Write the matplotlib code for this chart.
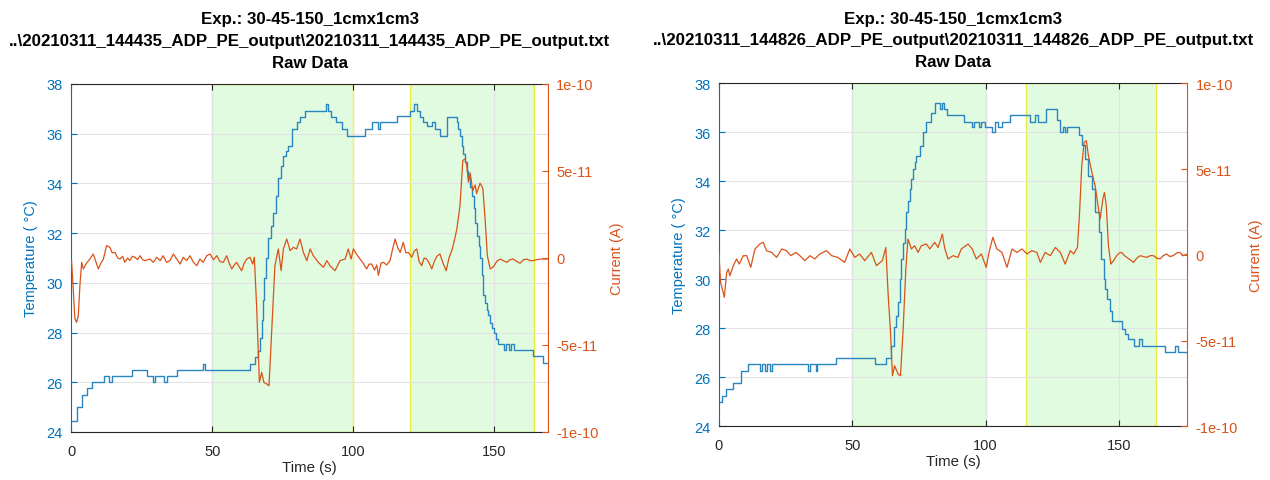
import numpy as np
import matplotlib
matplotlib.use("Agg")
import matplotlib.pyplot as plt

plt.rcParams['font.family'] = ['Liberation Sans', 'DejaVu Sans']

# ---------------- data ----------------
titles = [
    "Exp.: 30-45-150_1cmx1cm3\n..\\20210311_144435_ADP_PE_output\\20210311_144435_ADP_PE_output.txt\nRaw Data",
    "Exp.: 30-45-150_1cmx1cm3\n..\\20210311_144826_ADP_PE_output\\20210311_144826_ADP_PE_output.txt\nRaw Data",
]
x_limits = [169.0, 175.6]
x_ticks = [0, 50, 100, 150]
temp_ticks = [24, 26, 28, 30, 32, 34, 36, 38]
cur_ticks = [-1e-10, -5e-11, 0, 5e-11, 1e-10]
cur_tick_labels = ["-1e-10", "-5e-11", "0", "5e-11", "1e-10"]

# shaded (heating) intervals in seconds
spans_left = [(50, 100), (120, 164)]
spans_right = [(50, 100), (115, 164)]

# --- left experiment: temperature (step changes) ---
tL_temp = [0, 1.9, 3.7, 5.5, 7.2, 11.7, 13.5, 14.4, 21.4, 26.7, 28.9, 29.8, 33.0, 33.9,
           37.4, 46.6, 47.4, 63.4, 65.1, 66.3, 66.9, 67.5, 68.0, 68.5, 69.0, 69.9, 70.8,
           71.6, 72.5, 73.4, 74.3, 75.2, 76.1, 77.0, 78.1, 79.9, 81.1, 82.9, 90.2, 91.0,
           92.0, 93.8, 96.0, 97.7, 104.1, 106.5, 108.7, 109.6, 115.4, 120.1, 121.5, 122.6,
           123.7, 124.8, 126.0, 128.0, 129.0, 130.7, 133.1, 136.6, 137.2, 137.8, 138.4,
           139.0, 139.6, 140.2, 140.8, 141.4, 142.0, 142.6, 143.2, 143.8, 144.4, 144.9,
           145.5, 146.1, 146.7, 147.3, 147.9, 148.5, 149.1, 149.7, 150.5, 151.4, 153.5,
           154.1, 155.3, 155.9, 157.0, 163.8, 167.2, 169.0]
L_temp = [24.45, 25.0, 25.5, 25.75, 26.0, 26.25, 26.0, 26.25, 26.5, 26.25, 26.0, 26.25, 26.0, 26.25,
          26.5, 26.75, 26.5, 26.75, 27.0, 27.25, 27.8, 28.5, 29.3, 30.2, 31.0, 31.8, 32.3,
          32.8, 33.5, 34.2, 34.7, 35.1, 35.3, 35.5, 36.2, 36.46, 36.66, 36.92, 37.19, 36.92,
          36.66, 36.46, 36.19, 35.92, 36.19, 36.46, 36.19, 36.46, 36.7, 36.92, 37.19, 36.92,
          36.66, 36.46, 36.3, 36.46, 36.19, 35.92, 36.66, 36.46, 36.19, 35.92, 35.5,
          35.2, 34.85, 34.5, 34.2, 33.85, 33.5, 33.0, 32.4, 31.9, 31.5, 31.0,
          30.3, 29.5, 29.2, 28.9, 28.7, 28.4, 28.2, 28.0, 27.75, 27.54, 27.3,
          27.54, 27.3, 27.54, 27.3, 27.07, 26.77, 26.77]

# --- left experiment: current (units of 1e-11 A) ---
tL_cur = [0.1, 0.6, 1.3, 1.9, 2.5, 3.1, 3.7, 4.3, 5.4, 6.6, 7.8, 8.7, 9.6, 10.5, 11.4, 12.5,
          13.7, 14.5, 15.5, 16.5, 17.3, 18.2, 19.0, 20.0, 20.8, 21.7, 22.6, 23.5, 24.4, 25.3,
          26.1, 27.9, 29.1, 30.3, 31.5, 32.6, 33.8, 35.0, 36.2, 37.4, 38.6, 39.7, 40.9, 42.1,
          43.3, 44.5, 45.6, 46.8, 48.0, 49.2, 50.4, 51.6, 52.7, 53.9, 55.1, 56.0, 56.9, 57.8,
          58.6, 59.5, 60.4, 61.3, 62.2, 63.4, 64.3, 64.9, 65.7, 66.7, 67.5, 68.3, 69.3, 70.1,
          71.1, 72.2, 73.4, 74.4, 75.2, 76.4, 77.6, 78.7, 79.9, 81.1, 82.3, 83.5, 84.7, 85.8,
          87.6, 89.4, 90.6, 91.7, 93.5, 95.3, 97.1, 98.2, 99.2, 100.0, 101.2, 102.4, 103.5,
          104.7, 105.6, 106.5, 107.5, 108.3, 108.9, 109.8, 110.7, 111.8, 113.0, 113.9, 114.8,
          115.7, 116.6, 117.7, 118.6, 119.5, 120.7, 121.6, 122.5, 123.3, 124.2, 125.1, 126.0,
          126.9, 127.8, 128.7, 129.6, 130.7, 131.8, 132.9, 133.9, 134.9, 135.8, 136.7, 137.8,
          138.8, 139.6, 140.2, 140.8, 141.4, 142.3, 143.2, 143.7, 144.3, 144.9, 145.9, 146.7,
          147.5, 148.5, 149.7, 150.8, 152.0, 153.2, 154.4, 155.5, 156.7, 157.9, 159.1, 160.3,
          161.5, 162.7, 163.8, 165.0, 166.5, 168.8]
L_cur = [-0.15, -1.5, -3.5, -3.7, -3.3, -1.5, -0.25, -0.63, -0.3, -0.06, 0.23, -0.2, -0.63, -0.3, -0.06, 0.71,
         0.61, 0.3, 0.32, 0.0, -0.06, 0.1, -0.25, 0.0, -0.15, 0.1, 0.04, -0.1, 0.13, -0.1,
         -0.15, -0.06, -0.25, 0.04, -0.15, 0.13, -0.25, -0.15, 0.23, -0.06, -0.35, 0.04, -0.15, 0.13,
         -0.25, -0.44, -0.06, -0.25, 0.13, 0.23, -0.1, 0.13, -0.2, -0.25, 0.13, -0.3, -0.63, -0.4,
         -0.25, -0.5, -0.73, -0.3, -0.06, 0.04, -0.35, 0.04, -2.74, -7.15, -6.57, -7.15, -7.24, -7.34,
         -4.08, -0.44, 0.52, -0.73, 0.52, 1.09, 0.42, 0.61, 0.52, 1.09, 0.32, -0.15, 0.52, 0.13,
         -0.25, -0.54, -0.15, -0.44, -0.73, -0.15, -0.06, 0.52, -0.06, 0.52, 0.2, -0.06, -0.3,
         -0.63, -0.35, -0.35, -0.7, -0.4, -1.0, -0.3, -0.25, -0.4, -0.15, 0.5, 1.09,
         0.6, 0.32, 0.9, 0.3, 0.32, 0.04, 0.4, 0.52, -0.2, -0.44, 0.0, -0.06,
         -0.3, -0.63, -0.2, 0.1, 0.23, -0.3, -0.73, 0.0, 0.42, 1.0, 1.67, 3.0,
         5.6, 5.7, 5.3, 4.35, 4.9, 3.87, 4.2, 3.7, 4.0, 4.3, 4.0, 2.24,
         0.13, -0.63, -0.5, -0.2, -0.06, -0.15, -0.25, -0.1, -0.06, -0.2, -0.3, -0.1,
         -0.06, -0.15, -0.15, -0.1, -0.06, -0.06]

# --- right experiment: temperature ---
tR_temp = [0, 1.1, 2.7, 5.5, 8.2, 11.1, 15.4, 16.1, 17.3, 18.0, 19.2, 19.9, 33.6, 34.3,
           36.3, 37.0, 44.1, 58.5, 62.8, 64.7, 65.7, 66.4, 67.2, 67.8, 68.4, 69.0, 69.7,
           70.3, 71.0, 71.6, 72.2, 72.8, 73.5, 74.1, 75.3, 76.5, 77.8, 79.7, 80.9, 83.0,
           83.5, 84.5, 85.5, 91.8, 94.9, 95.6, 97.4, 98.2, 99.9, 102.5, 103.4, 104.5,
           106.0, 109.2, 116.5, 118.4, 119.6, 122.5, 126.7, 127.9, 128.9, 129.8, 130.4,
           134.8, 136.0, 137.3, 138.5, 139.8, 141.0, 142.3, 143.2, 144.2, 144.8, 145.4,
           146.7, 147.3, 151.0, 152.3, 153.5, 155.4, 157.6, 158.5, 167.2, 171.0, 172.0, 175.6]
R_temp = [24.98, 25.25, 25.52, 25.77, 26.27, 26.54, 26.27, 26.54, 26.27, 26.54, 26.27, 26.54, 26.27, 26.54,
          26.27, 26.54, 26.77, 26.54, 26.77, 27.29, 28.04, 28.5, 29.06, 30.0, 30.83, 31.5, 32.05,
          32.73, 33.2, 33.68, 34.1, 34.5, 34.8, 35.04, 35.45, 36.0, 36.43, 36.8, 37.18, 36.95,
          37.18, 36.95, 36.7, 36.43, 36.2, 36.43, 36.2, 36.43, 36.2, 36.0, 36.43, 36.2,
          36.43, 36.7, 36.43, 36.7, 36.43, 36.95, 36.5, 36.0, 36.2, 36.0, 36.2,
          35.88, 35.47, 34.93, 34.23, 33.68, 32.73, 31.92, 30.83, 30.0, 29.6, 29.2,
          28.72, 28.3, 27.97, 27.77, 27.56, 27.29, 27.56, 27.29, 27.04, 27.29, 27.04, 27.04]

# --- right experiment: current (units of 1e-11 A) ---
tR_cur = [0.1, 0.7, 1.5, 2.1, 3.0, 3.6, 4.2, 5.5, 6.7, 7.7, 9.2, 10.5, 12.0, 13.6, 15.4, 16.7,
          17.9, 19.8, 21.7, 23.6, 25.4, 27.0, 28.9, 30.4, 32.3, 34.2, 36.0, 37.9, 40.4, 42.3,
          44.6, 47.2, 49.1, 51.0, 52.8, 54.7, 57.2, 59.1, 61.3, 62.6, 63.5, 64.3, 65.1, 65.9,
          67.2, 68.1, 69.1, 70.1, 70.9, 72.2, 73.4, 74.7, 75.9, 77.8, 79.1, 80.9, 82.2, 83.8,
          84.6, 85.9, 87.8, 89.6, 90.9, 93.4, 95.0, 96.5, 98.4, 100.2, 101.4, 102.7, 104.2,
          106.1, 108.0, 109.9, 111.7, 113.6, 115.5, 117.3, 119.2, 120.5, 122.3, 124.2, 126.1,
          128.0, 129.8, 131.7, 133.0, 134.4, 135.2, 136.0, 136.9, 137.7, 138.5, 139.8, 141.0,
          142.3, 142.9, 143.9, 144.5, 145.2, 146.0, 146.9, 147.9, 149.1, 150.0, 151.0, 152.0,
          152.9, 154.2, 155.4, 156.6, 157.9, 159.1, 160.4, 161.6, 162.9, 164.1, 165.3, 166.5,
          167.8, 169.0, 170.3, 171.5, 172.8, 174.0, 175.6]
R_cur = [0.05, -1.6, -2.09, -2.48, -1.02, -0.83, -1.22, -0.63, -0.24, -0.54, -0.05, -0.05, -0.73, 0.34, 0.63, 0.73,
         0.24, 0.14, -0.15, 0.34, 0.24, -0.05, 0.14, -0.05, -0.34, -0.05, -0.24, 0.05, 0.24, -0.05,
         -0.15, -0.44, 0.34, -0.15, 0.05, -0.34, 0.14, -0.63, -0.34, 0.43, -2.38, -4.33, -7.05, -6.47,
         -6.95, -7.05, -4.33, -0.83, 0.92, 0.34, 0.53, 0.14, 0.53, 0.63, 0.34, 0.73, 0.43, 1.21,
         0.43, -0.24, -0.05, -0.15, 0.34, 0.63, 0.34, -0.24, 0.05, -0.73, 0.24, 1.02, 0.34,
         0.14, -0.73, 0.34, 0.14, 0.34, 0.05, 0.24, 0.14, -0.44, 0.14, -0.05, 0.43,
         0.14, -0.54, 0.24, 0.05, 0.44, 2.48, 5.2, 6.56, 6.66, 5.78, 4.81, 4.03,
         2.67, 2.09, 3.25, 3.64, 2.86, 0.53, -0.54, -0.35, -0.05, 0.1, 0.14, -0.05,
         -0.15, -0.3, -0.44, -0.2, -0.05, -0.1, -0.15, -0.05, -0.05, -0.2, -0.24, -0.05,
         0.05, -0.1, -0.05, 0.1, 0.14, -0.05, 0.05]

CUR_UNIT = 1e-11

# ---------------- styling ----------------
BLUE = '#0072BD'
ORANGE = '#D95319'
DARK = '#262626'
FS = 10.5

fig = plt.figure(figsize=(12.7, 4.81), dpi=100)
positions = [[0.0561, 0.0998, 0.3754, 0.7235], [0.5659, 0.1116, 0.3691, 0.7131]]

datasets = [
    (tL_temp, L_temp, tL_cur, L_cur, spans_left),
    (tR_temp, R_temp, tR_cur, R_cur, spans_right),
]

for i, (tt, tv, ct, cv, spans) in enumerate(datasets):
    ax = fig.add_axes(positions[i])
    for (a, b) in spans:
        ax.axvspan(a, b, facecolor=(0.2, 0.9, 0.2, 0.15), edgecolor='#e9ec3c', lw=1.0, zorder=0.5)
    ax.plot(tt, tv, drawstyle='steps-post', color='#2a86c0', lw=1.0, zorder=2)
    ax.set_xlim(0, x_limits[i])
    ax.set_ylim(24, 38)
    ax.set_xticks(x_ticks)
    ax.set_yticks(temp_ticks)
    ax.grid(True, color='#e3e3e3', lw=0.8)
    ax.tick_params(axis='x', direction='in', top=True, colors=DARK, labelsize=FS, length=4, pad=8.5)
    ax.tick_params(axis='y', direction='in', colors=BLUE, labelsize=FS, length=4, pad=6)
    ax.set_xlabel('Time (s)', fontsize=10.8, color=DARK, labelpad=1.5)
    ax.set_ylabel('Temperature ( °C)', fontsize=FS, color=BLUE, labelpad=6)
    ax.spines['left'].set_color(BLUE)
    ax.spines['bottom'].set_color(DARK)
    ax.spines['top'].set_color(DARK)
    ax.spines['right'].set_visible(False)
    for s in ax.spines.values():
        s.set_linewidth(0.8)
    ax.set_title(titles[i], fontsize=12.2, fontweight='bold', linespacing=1.55, pad=12.5, color='black')

    ax2 = ax.twinx()
    ax2.plot(ct, np.array(cv) * CUR_UNIT, color=ORANGE, lw=0.9)
    ax2.set_ylim(-1e-10, 1e-10)
    ax2.set_yticks(cur_ticks)
    ax2.set_yticklabels(cur_tick_labels)
    ax2.tick_params(axis='y', direction='in', colors=ORANGE, labelsize=FS, length=4, pad=6)
    ax2.set_ylabel('Current (A)', fontsize=FS, color=ORANGE, labelpad=8)
    for side in ['left', 'top', 'bottom']:
        ax2.spines[side].set_visible(False)
    ax2.spines['right'].set_color(ORANGE)
    ax2.spines['right'].set_linewidth(0.8)

fig.savefig('out.png', dpi=100)
